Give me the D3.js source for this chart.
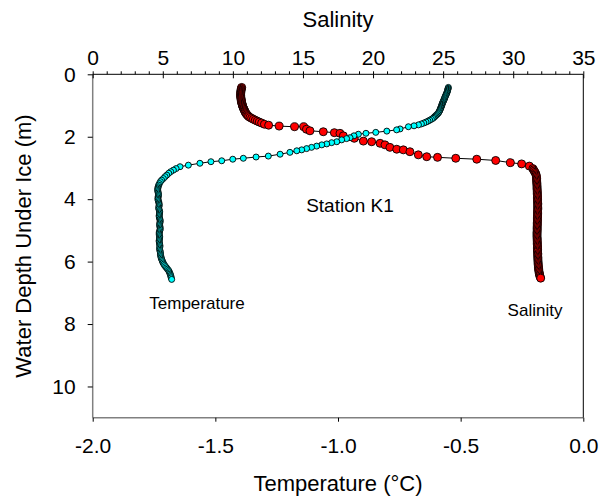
<!DOCTYPE html>
<html>
<head>
<meta charset="utf-8">
<script src="https://cdn.jsdelivr.net/npm/d3@7"></script>
<style>
  body { margin: 0; background: #fff; }
  text { font-family: "Liberation Sans", Arial, sans-serif; fill: #000; }
</style>
</head>
<body>
<div id="fig"></div>
<script>
const fig_width = 603
const fig_height = 502

// profile data: [depth (m), value]
const salinityProfile = [
  [0.42,10.63],[0.45,10.60],[0.48,10.60],[0.51,10.58],[0.54,10.57],[0.57,10.57],[0.60,10.56],[0.63,10.56],
  [0.66,10.55],[0.69,10.56],[0.72,10.56],[0.75,10.57],[0.78,10.58],[0.81,10.59],[0.84,10.60],[0.87,10.61],
  [0.90,10.63],[0.93,10.64],[0.96,10.66],[0.99,10.68],[1.02,10.70],[1.05,10.72],[1.08,10.75],[1.11,10.78],
  [1.14,10.81],[1.17,10.84],[1.20,10.87],[1.23,10.90],[1.26,10.95],[1.29,11.00],[1.32,11.06],[1.35,11.12],
  [1.38,11.22],[1.41,11.34],[1.44,11.46],[1.47,11.60],[1.50,11.74],[1.53,11.88],[1.56,12.05],[1.60,12.25],
  [1.63,12.55],[1.66,13.30],[1.68,14.40],[1.68,15.05],[1.76,15.25],[1.81,15.50],[1.84,16.45],[1.87,17.24],
  [1.89,17.64],[1.97,17.88],[2.05,18.66],[2.14,19.31],[2.16,19.90],[2.21,20.50],[2.26,20.85],[2.34,21.20],
  [2.40,21.69],[2.42,22.16],[2.48,22.63],[2.58,23.23],[2.64,23.83],[2.66,24.60],[2.69,25.90],[2.72,27.40],
  [2.76,28.75],[2.83,29.80],[2.87,30.60],[2.94,31.15],[3.02,31.40],[3.06,31.45],
  [3.10,31.50],[3.14,31.56],[3.18,31.60],[3.22,31.63],[3.26,31.65],[3.30,31.66],[3.34,31.67],[3.38,31.67],
  [3.42,31.68],[3.46,31.68],[3.50,31.69],[3.54,31.69],[3.58,31.70],[3.62,31.70],[3.66,31.70],[3.70,31.71],
  [3.74,31.71],[3.78,31.72],[3.82,31.72],[3.86,31.72],[3.90,31.73],[3.94,31.73],[3.98,31.73],[4.02,31.74],
  [4.06,31.74],[4.10,31.74],[4.14,31.75],[4.18,31.75],[4.22,31.75],[4.26,31.75],[4.30,31.75],[4.34,31.75],
  [4.38,31.74],[4.42,31.74],[4.46,31.74],[4.50,31.74],[4.54,31.73],[4.58,31.73],[4.62,31.73],[4.66,31.73],
  [4.70,31.72],[4.74,31.72],[4.78,31.72],[4.82,31.72],[4.86,31.71],[4.90,31.71],[4.94,31.71],[4.98,31.71],
  [5.02,31.71],[5.06,31.70],[5.10,31.70],[5.14,31.70],[5.18,31.70],[5.22,31.70],[5.26,31.71],[5.30,31.71],
  [5.34,31.71],[5.38,31.72],[5.42,31.72],[5.46,31.72],[5.50,31.73],[5.54,31.73],[5.58,31.73],[5.62,31.74],
  [5.66,31.74],[5.70,31.74],[5.74,31.75],[5.78,31.75],[5.82,31.75],[5.86,31.76],[5.90,31.76],[5.94,31.76],
  [5.98,31.77],[6.02,31.77],[6.06,31.78],[6.10,31.78],[6.14,31.79],[6.18,31.80],[6.22,31.81],[6.26,31.82],
  [6.30,31.83],[6.34,31.85],[6.38,31.86],[6.42,31.88],[6.46,31.90],[6.50,31.93],[6.53,31.96]
]

const temperatureProfile = [
  [0.42,-0.550],[0.45,-0.551],[0.48,-0.552],[0.51,-0.553],[0.54,-0.554],[0.57,-0.555],[0.60,-0.557],[0.63,-0.558],
  [0.66,-0.560],[0.69,-0.562],[0.72,-0.563],[0.75,-0.565],[0.78,-0.566],[0.81,-0.568],[0.84,-0.569],[0.87,-0.571],
  [0.90,-0.573],[0.93,-0.574],[0.96,-0.576],[0.99,-0.577],[1.02,-0.578],[1.05,-0.580],[1.08,-0.581],[1.11,-0.583],
  [1.14,-0.584],[1.17,-0.586],[1.20,-0.588],[1.23,-0.590],[1.26,-0.593],[1.29,-0.597],[1.32,-0.601],[1.35,-0.605],
  [1.38,-0.609],[1.41,-0.613],[1.44,-0.619],[1.47,-0.626],[1.50,-0.633],[1.53,-0.641],[1.56,-0.650],[1.59,-0.660],
  [1.62,-0.672],[1.65,-0.690],[1.68,-0.713],[1.75,-0.747],[1.78,-0.761],[1.82,-0.801],[1.86,-0.846],[1.89,-0.886],
  [1.92,-0.917],[1.97,-0.935],[2.03,-0.951],[2.06,-0.965],[2.10,-0.985],[2.16,-1.005],[2.19,-1.026],[2.23,-1.046],
  [2.26,-1.066],[2.30,-1.087],[2.34,-1.108],[2.38,-1.128],[2.42,-1.148],[2.45,-1.168],[2.50,-1.196],[2.56,-1.236],
  [2.62,-1.284],[2.65,-1.334],[2.69,-1.386],[2.72,-1.429],[2.77,-1.474],[2.80,-1.518],[2.85,-1.563],[2.91,-1.610],
  [2.96,-1.644],[3.02,-1.660],[3.07,-1.671],[3.12,-1.682],[3.17,-1.690],[3.23,-1.698],[3.28,-1.705],[3.34,-1.712],
  [3.39,-1.719],[3.44,-1.724],[3.50,-1.728],[3.55,-1.731],[3.60,-1.733],
  [3.64,-1.734],[3.68,-1.735],[3.72,-1.735],[3.76,-1.734],[3.80,-1.733],[3.84,-1.732],[3.88,-1.732],[3.92,-1.733],
  [3.96,-1.734],[4.00,-1.734],[4.04,-1.733],[4.08,-1.731],[4.12,-1.730],[4.16,-1.729],[4.20,-1.729],[4.24,-1.730],
  [4.28,-1.731],[4.32,-1.730],[4.36,-1.728],[4.40,-1.727],[4.44,-1.727],[4.48,-1.728],[4.52,-1.729],[4.56,-1.729],
  [4.60,-1.728],[4.64,-1.726],[4.68,-1.725],[4.72,-1.725],[4.76,-1.726],[4.80,-1.727],[4.84,-1.727],[4.88,-1.726],
  [4.92,-1.725],[4.96,-1.725],[5.00,-1.726],[5.04,-1.728],[5.08,-1.729],[5.12,-1.729],[5.16,-1.728],[5.20,-1.727],
  [5.24,-1.727],[5.28,-1.728],[5.32,-1.729],[5.36,-1.729],[5.40,-1.728],[5.44,-1.727],[5.48,-1.726],[5.52,-1.726],
  [5.56,-1.727],[5.60,-1.727],[5.64,-1.726],[5.68,-1.725],[5.72,-1.724],[5.76,-1.724],[5.80,-1.723],[5.84,-1.722],
  [5.88,-1.721],[5.92,-1.719],[5.96,-1.717],[6.00,-1.715],[6.04,-1.713],[6.08,-1.710],[6.12,-1.707],[6.16,-1.703],
  [6.20,-1.699],[6.24,-1.695],[6.28,-1.691],[6.32,-1.688],[6.36,-1.686],[6.40,-1.684],[6.44,-1.682],[6.48,-1.681],
  [6.52,-1.680],[6.57,-1.678]
]

const salinityTicks = [0, 5, 10, 15, 20, 25, 30, 35]
const salinityMinorTicks = d3.range(0, 36, 1)
const temperatureTicks = [-2.0, -1.5, -1.0, -0.5, 0.0]
const depthTicks = [0, 2, 4, 6, 8, 10]

const plot = {left: 92.7, top: 74.3, right: 583.3, bottom: 417.7}
const tick_font = '21px'
const title_font = '22px'

let x_sal = d3.scaleLinear().domain([0, 35]).range([plot.left, plot.right])
let x_temp = d3.scaleLinear().domain([-2, 0]).range([plot.left, plot.right])
let y_depth = d3.scaleLinear().domain([0, 11]).range([plot.top, plot.bottom])

let fig = d3.select("#fig")
    .append('svg')
    .attr('width', fig_width)
    .attr('height', fig_height)

// frame: left/bottom grey, top/right black
fig.append('line').attr('x1', plot.left).attr('x2', plot.left).attr('y1', plot.top).attr('y2', plot.bottom)
    .style('stroke', '#808080').style('stroke-width', 1.5)
fig.append('line').attr('x1', plot.left).attr('x2', plot.right).attr('y1', plot.bottom).attr('y2', plot.bottom)
    .style('stroke', '#808080').style('stroke-width', 1.5)
fig.append('line').attr('x1', plot.left).attr('x2', plot.right).attr('y1', plot.top).attr('y2', plot.top)
    .style('stroke', '#000').style('stroke-width', 1)
fig.append('line').attr('x1', plot.right).attr('x2', plot.right).attr('y1', plot.top).attr('y2', plot.bottom)
    .style('stroke', '#000').style('stroke-width', 1)

// top salinity axis: minor ticks outward, major ticks inward
fig.append('g')
    .attr('transform', `translate(0,${plot.top})`)
    .call(d3.axisTop(x_sal).tickValues(salinityMinorTicks).tickSize(3).tickFormat(''))
    .call(g => g.select('.domain').remove())
fig.append('g')
    .attr('transform', `translate(0,${plot.top})`)
    .call(d3.axisTop(x_sal).tickValues(salinityTicks).tickSize(-4).tickPadding(9).tickFormat(d => d))
    .call(g => g.select('.domain').remove())
    .call(g => g.selectAll('text').style('font-size', tick_font).style('font-family', '"Liberation Sans", Arial, sans-serif'))

fig.append('g')
    .attr('transform', `translate(${plot.left},0)`)
    .call(d3.axisLeft(y_depth).tickValues(depthTicks).tickSize(5).tickPadding(12).tickFormat(d => d))
    .call(g => g.select('.domain').remove())
    .call(g => g.selectAll('text').style('font-size', tick_font).style('font-family', '"Liberation Sans", Arial, sans-serif'))

fig.append('g')
    .attr('transform', `translate(0,${plot.bottom})`)
    .call(d3.axisBottom(x_temp).tickValues(temperatureTicks).tickSize(4).tickPadding(16).tickFormat(d => d.toFixed(1)))
    .call(g => g.select('.domain').remove())
    .call(g => g.selectAll('text').style('font-size', tick_font).style('font-family', '"Liberation Sans", Arial, sans-serif'))

// axis titles
fig.append('text').attr('x', 338).attr('y', 27).attr('text-anchor', 'middle')
    .style('font-size', title_font).text('Salinity')
fig.append('text').attr('x', 338).attr('y', 491).attr('text-anchor', 'middle')
    .style('font-size', title_font).text('Temperature (°C)')
fig.append('text').attr('transform', 'translate(31,246) rotate(-90)').attr('text-anchor', 'middle')
    .style('font-size', title_font).text('Water Depth Under Ice (m)')

// profiles: line then markers
function drawProfile(data, xscale, colour, radius) {
    let line = d3.line().x(d => xscale(d[1])).y(d => y_depth(d[0]))
    fig.append('path').datum(data).attr('d', line)
        .style('fill', 'none').style('stroke', '#000').style('stroke-width', 1)
    fig.append('g').selectAll('circle')
        .data(data)
        .join('circle')
        .attr('cx', d => xscale(d[1]))
        .attr('cy', d => y_depth(d[0]))
        .attr('r', radius)
        .style('fill', colour)
        .style('stroke', '#000')
        .style('stroke-width', 0.9)
}

drawProfile(salinityProfile, x_sal, '#ff0000', 4)
drawProfile(temperatureProfile, x_temp, '#00ffff', 3)

// annotations
fig.append('text').attr('x', 350).attr('y', 212).attr('text-anchor', 'middle')
    .style('font-size', '19px').text('Station K1')
fig.append('text').attr('x', 197).attr('y', 309).attr('text-anchor', 'middle')
    .style('font-size', '17px').text('Temperature')
fig.append('text').attr('x', 535).attr('y', 316).attr('text-anchor', 'middle')
    .style('font-size', '17px').text('Salinity')
</script>
</body>
</html>
